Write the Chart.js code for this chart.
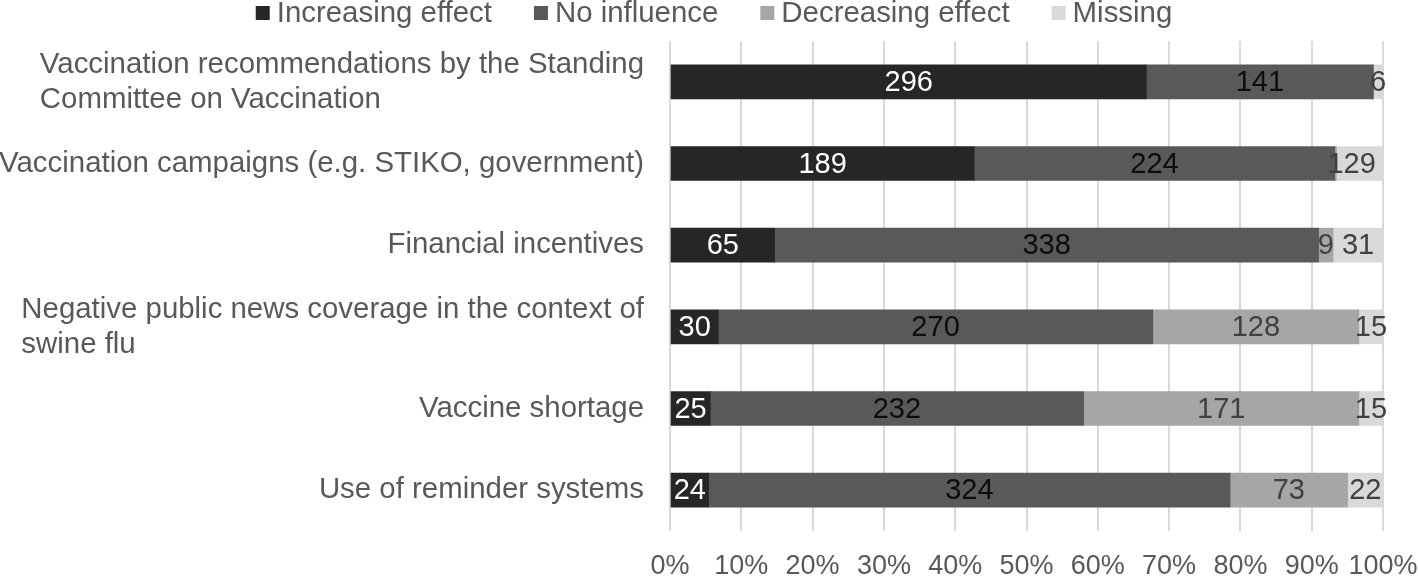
<!DOCTYPE html>
<html>
<head>
<meta charset="utf-8">
<script src="https://cdn.jsdelivr.net/npm/chart.js@4"></script>
<style>
  html, body { margin: 0; padding: 0; background: #fff; }
  #wrap { width: 1418px; height: 576px; }
</style>
</head>
<body>
<div id="wrap"><canvas id="chart" width="1418" height="576"></canvas></div>
<script>
// ---- data ----
const categories = [
  ['Vaccination recommendations by the Standing', 'Committee on Vaccination'],
  ['Vaccination campaigns (e.g. STIKO, government)'],
  ['Financial incentives'],
  ['Negative public news coverage in the context of', 'swine flu'],
  ['Vaccine shortage'],
  ['Use of reminder systems']
];
const increasing = [296, 189, 65, 30, 25, 24];
const noInfluence = [141, 224, 338, 270, 232, 324];
const decreasing = [0, 1, 9, 128, 171, 73];
const missing = [6, 29, 31, 15, 15, 22];
const xTicks = [0, 10, 20, 30, 40, 50, 60, 70, 80, 90, 100];

const FONT = '"Liberation Sans", Arial, sans-serif';
const TEXT = '#595959';
const SQUEEZE = 0.98; // reference text is a touch narrow for its height

const seriesDefs = [
  { label: 'Increasing effect', counts: increasing, color: '#262626', textColor: '#ffffff' },
  { label: 'No influence', counts: noInfluence, color: '#595959', textColor: '#0d0d0d' },
  { label: 'Decreasing effect', counts: decreasing, color: '#a6a6a6', textColor: '#404040' },
  { label: 'Missing', counts: missing, color: '#d9d9d9', textColor: '#404040' }
];

// row totals, used to turn counts into shares
const totals = categories.map((c, i) =>
  seriesDefs.reduce((s, d) => s + d.counts[i], 0));

const datasets = seriesDefs.map(d => ({
  label: d.label,
  data: d.counts.map((v, i) => v / totals[i] * 100),
  counts: d.counts,
  backgroundColor: d.color,
  textColor: d.textColor,
  borderWidth: 0,
  barThickness: 34
}));

// draw text narrowed horizontally around its anchor
function narrowText(ctx, str, x, y) {
  ctx.save();
  ctx.translate(x, y);
  ctx.scale(SQUEEZE, 1);
  ctx.fillText(str, 0, 0);
  ctx.restore();
}

// value labels in the middle of each segment
const valueLabels = {
  id: 'valueLabels',
  afterDatasetsDraw(chart) {
    const ctx = chart.ctx;
    ctx.save();
    ctx.font = '29px ' + FONT;
    ctx.textAlign = 'center';
    ctx.textBaseline = 'middle';
    chart.data.datasets.forEach((ds, di) => {
      const meta = chart.getDatasetMeta(di);
      meta.data.forEach((bar, i) => {
        const n = ds.counts[i];
        if (!n) return;
        ctx.fillStyle = ds.textColor;
        ctx.fillText(String(n), (bar.x + bar.base) / 2, bar.y + 1);
      });
    });
    ctx.restore();
  }
};

// category labels: block right-aligned to axis, lines left-aligned inside
const categoryLabels = {
  id: 'categoryLabels',
  afterDraw(chart) {
    const ctx = chart.ctx;
    const yScale = chart.scales.y;
    const right = chart.chartArea.left - 26;
    const lineH = 35;
    ctx.save();
    ctx.font = '30px ' + FONT;
    ctx.fillStyle = TEXT;
    ctx.textAlign = 'left';
    ctx.textBaseline = 'middle';
    categories.forEach((lines, i) => {
      const cy = yScale.getPixelForValue(i);
      const w = SQUEEZE * Math.max(...lines.map(l => ctx.measureText(l).width));
      const x0 = right - w;
      const top = cy - (lines.length - 1) * lineH / 2;
      lines.forEach((l, k) => narrowText(ctx, l, x0, top + k * lineH));
    });
    ctx.restore();
  }
};

// legend across the top
const topLegend = {
  id: 'topLegend',
  afterDraw(chart) {
    const ctx = chart.ctx;
    const box = 14, gap = 7, spacing = 42, cy = 13;
    ctx.save();
    ctx.font = '30px ' + FONT;
    ctx.textBaseline = 'middle';
    ctx.textAlign = 'left';
    const widths = chart.data.datasets.map(d => box + gap + SQUEEZE * ctx.measureText(d.label).width);
    const total = widths.reduce((a, b) => a + b, 0) + spacing * (widths.length - 1);
    let x = chart.width / 2 - total / 2 + 5;
    chart.data.datasets.forEach((d, i) => {
      ctx.fillStyle = d.backgroundColor;
      ctx.fillRect(x, cy - box / 2, box, box);
      ctx.fillStyle = TEXT;
      narrowText(ctx, d.label, x + box + gap, cy + 1);
      x += widths[i] + spacing;
    });
    ctx.restore();
  }
};

new Chart(document.getElementById('chart'), {
  type: 'bar',
  data: { labels: categories.map(c => c.join(' ')), datasets: datasets },
  options: {
    indexAxis: 'y',
    responsive: false,
    animation: false,
    layout: { padding: { left: 670, right: 35, top: 41, bottom: 0 } },
    plugins: {
      legend: { display: false },
      tooltip: { enabled: false }
    },
    scales: {
      x: {
        stacked: true,
        min: 0,
        max: 100,
        afterBuildTicks(scale) {
          scale.ticks = xTicks.map(v => ({ value: v }));
        },
        afterFit(scale) {
          // keep the plot edges where the reference has them
          scale.height = 45;
          scale.paddingLeft = 0;
          scale.paddingRight = 0;
        },
        grid: { color: '#d9d9d9', lineWidth: 2, drawTicks: false },
        border: { display: false },
        ticks: {
          color: TEXT,
          padding: 19,
          maxRotation: 0,
          autoSkip: false,
          font: { family: FONT, size: 27 },
          callback: v => v + '%'
        }
      },
      y: {
        stacked: true,
        display: false
      }
    }
  },
  plugins: [valueLabels, categoryLabels, topLegend]
});
</script>
</body>
</html>
